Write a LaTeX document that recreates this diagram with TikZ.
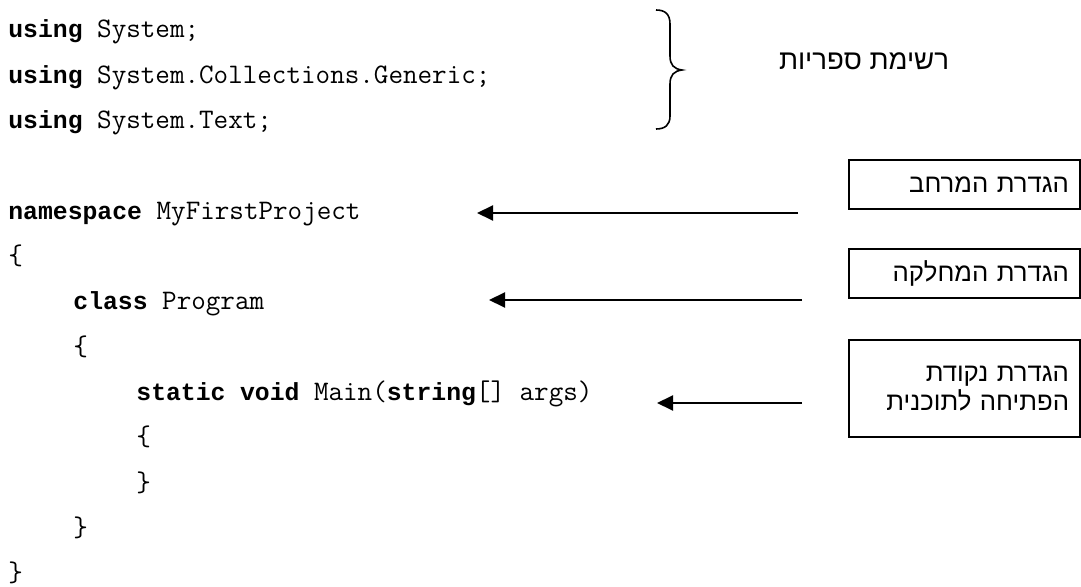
\documentclass[tikz,border=0pt]{standalone}
\usepackage{fontspec}
\newfontfamily\hebfont[Script=Hebrew]{Liberation Sans}
\newfontfamily\kwfont{Liberation Mono}
\newcommand\kwd[1]{{\kwfont\bfseries\fontsize{12.375}{16}\selectfont #1}}
\TeXXeTstate=1
\usetikzlibrary{arrows.meta}
\begin{document}
\begin{tikzpicture}[x=0.5pt,y=-0.5pt,
  codeline/.style={anchor=base west, inner sep=0pt, font=\ttfamily\fontsize{14.14}{16}\selectfont},
  hebtext/.style={inner sep=0pt, font=\hebfont\fontsize{13.8}{14.5}\selectfont},
  labelbox/.style={draw, line width=1pt, anchor=north west, minimum width=115.5pt, text width=104.5pt, inner xsep=5.5pt, align=right, font=\hebfont\fontsize{12.85}{14.5}\selectfont},
  pointer/.style={line width=1pt, -{Triangle[length=8pt,width=7.5pt]}},
  bracecurve/.style={line width=0.8pt}]
\useasboundingbox (0,0) rectangle (1081,587);
% code
\node[codeline] (l0) at (8,38) {\kwd{using} System;};
\node[codeline] (l1) at (8,83.3) {\kwd{using} System.Collections.Generic;};
\node[codeline] (l2) at (8,128.6) {\kwd{using} System.Text;};
\node[codeline] (l4) at (8,219.2) {\kwd{namespace} MyFirstProject};
\node[codeline] (l5) at (8,264.5) {\{};
\node[codeline] (l6) at (73,309.8) {\kwd{class} Program};
\node[codeline] (l7) at (73,355.1) {\{};
\node[codeline] (l8) at (136,400.4) {\kwd{static} \kwd{void} Main(\kwd{string}[] args)};
\node[codeline] (l9) at (136,445.7) {\{};
\node[codeline] (l10) at (136,491) {\}};
\node[codeline] (l11) at (73,536.3) {\}};
\node[codeline] (l12) at (8,581.6) {\}};
% brace
\draw[bracecurve] (656,10) .. controls (665,10) and (670,14) .. (670,24) -- (670,56)
  .. controls (670,65) and (674,69) .. (682,70)
  .. controls (674,71) and (670,75) .. (670,84) -- (670,116)
  .. controls (670,125) and (665,129) .. (656,129);
\node[hebtext] (libs) at (864,61) {\beginR רשימת ספריות\endR};
% boxes
\node[labelbox, minimum height=24.5pt] (b1) at (848,159) {\beginR הגדרת המרחב\endR};
\node[labelbox, minimum height=24.5pt] (b2) at (848,248) {\beginR הגדרת המחלקה\endR};
\node[labelbox, minimum height=48.5pt] (b3) at (848,339) {\beginR הגדרת נקודת\endR\\\beginR הפתיחה לתוכנית\endR};
% arrows
\coordinate (a1s) at (798,213);
\coordinate (a1e) at (477,213);
\coordinate (a2s) at (802,300);
\coordinate (a2e) at (489,300);
\coordinate (a3s) at (802,403);
\coordinate (a3e) at (657,403);
\draw[pointer] (a1s) -- (a1e);
\draw[pointer] (a2s) -- (a2e);
\draw[pointer] (a3s) -- (a3e);
\end{tikzpicture}
\end{document}
